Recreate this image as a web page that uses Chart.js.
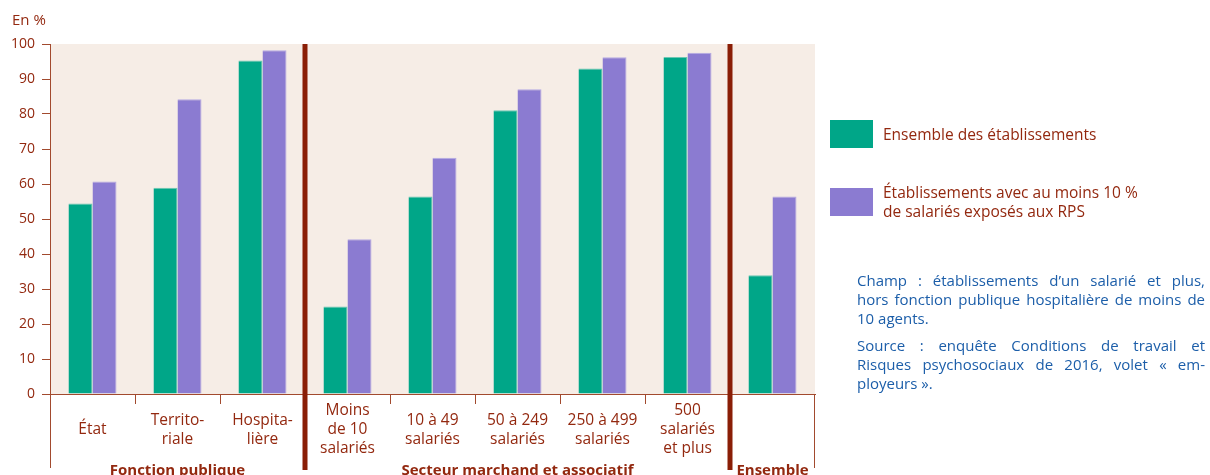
<!DOCTYPE html>
<html lang="fr">
<head>
<meta charset="utf-8">
<script src="https://cdn.jsdelivr.net/npm/chart.js@4.4.1/dist/chart.umd.min.js"></script>
<style>
  html, body { margin:0; padding:0; background:#fff; }
  #wrap { position:relative; width:1210px; height:475px; overflow:hidden; font-family:"Open Sans", sans-serif; }
  #graphe { position:absolute; left:0; top:0; }
  #unite { position:absolute; left:12px; top:9px; font-size:15px; color:#93280f; }
  #legende { position:absolute; left:830px; top:120px; color:#93280f; font-size:15.5px; line-height:19px; }
  #legende .item { display:flex; align-items:center; margin-bottom:35px; }
  #legende .case { width:43px; height:28px; margin-right:10px; flex:none; }
  #notes { position:absolute; left:857px; top:271px; width:348px; color:#1c5ea9; font-size:15px; line-height:19px; }
  #notes p { margin:0 0 8px 0; }
  #notes .j { display:block; text-align:justify; text-align-last:justify; white-space:nowrap; }
</style>
</head>
<body>
<div id="wrap">
  <canvas id="graphe" width="1210" height="475"></canvas>
  <div id="unite">En %</div>
  <div id="legende"></div>
  <div id="notes">
    <p><span class="j">Champ : établissements d’un salarié et plus,</span><span class="j">hors fonction publique hospitalière de moins de</span>10 agents.</p>
    <p><span class="j">Source : enquête Conditions de travail et</span><span class="j">Risques psychosociaux de 2016, volet « em-</span>ployeurs ».</p>
  </div>
</div>
<script>
var categories = [['État'], ['Territo-', 'riale'], ['Hospita-', 'lière'], ['Moins', 'de 10', 'salariés'],
  ['10 à 49', 'salariés'], ['50 à 249', 'salariés'], ['250 à 499', 'salariés'], ['500', 'salariés', 'et plus'], ''];
var groupes = ['Fonction publique', 'Secteur marchand et associatif', 'Ensemble'];
var tailleGroupes = [3, 5, 1];
var ensembleEtab = [54.4, 58.9, 95.3, 25.0, 56.4, 81.1, 93.0, 96.3, 33.9];
var etabRps = [60.7, 84.2, 98.2, 44.2, 67.5, 87.1, 96.2, 97.5, 56.4];
var yTicks = [0, 10, 20, 30, 40, 50, 60, 70, 80, 90, 100];

var rouge = '#93280f';
var trait = '#a24a2e';
var separateur = '#8a1e06';

// fond beige, separateurs et libelles des groupes
var cadre = {
  id: 'cadre',
  beforeDraw: function(chart) {
    var ctx = chart.ctx, a = chart.chartArea;
    ctx.save();
    ctx.fillStyle = '#f6ede6';
    ctx.fillRect(a.left, a.top, a.right - a.left, a.bottom - a.top);
    ctx.restore();
  },
  afterDraw: function(chart) {
    var ctx = chart.ctx, a = chart.chartArea, x = chart.scales.x;
    ctx.save();
    ctx.strokeStyle = trait;
    ctx.lineWidth = 1;
    ctx.beginPath();
    ctx.moveTo(a.left + 0.5, a.bottom); ctx.lineTo(a.left + 0.5, 468);
    ctx.moveTo(a.right - 0.5, a.bottom); ctx.lineTo(a.right - 0.5, 468);
    ctx.stroke();

    var debut = 0;
    for (var g = 0; g < groupes.length; g++) {
      var fin = debut + tailleGroupes[g] - 1;
      // petits traits entre categories du meme groupe
      ctx.strokeStyle = trait;
      ctx.lineWidth = 1;
      for (var i = debut; i < fin; i++) {
        var m = Math.round((x.getPixelForValue(i) + x.getPixelForValue(i + 1)) / 2) + 0.5;
        ctx.beginPath();
        ctx.moveTo(m, a.bottom); ctx.lineTo(m, a.bottom + 10);
        ctx.stroke();
      }
      // libelle du groupe
      var centre = (x.getPixelForValue(debut) + x.getPixelForValue(fin)) / 2;
      ctx.fillStyle = rouge;
      ctx.font = 'bold 15px "Open Sans", sans-serif';
      ctx.textAlign = 'center';
      ctx.textBaseline = 'middle';
      ctx.fillText(groupes[g], centre, 471);
      // separateur epais
      if (g < groupes.length - 1) {
        var s = (x.getPixelForValue(fin) + x.getPixelForValue(fin + 1)) / 2;
        ctx.strokeStyle = separateur;
        ctx.lineWidth = 5;
        ctx.beginPath();
        ctx.moveTo(s, a.top); ctx.lineTo(s, 470);
        ctx.stroke();
      }
      debut = fin + 1;
    }
    ctx.restore();
  }
};

var chart = new Chart(document.getElementById('graphe'), {
  type: 'bar',
  data: {
    labels: categories,
    datasets: [
      { label: 'Ensemble des établissements', data: ensembleEtab, backgroundColor: '#00a688',
        borderColor: '#6cc7b3', borderWidth: { top: 1, right: 1, left: 0, bottom: 0 } },
      { label: ['Établissements avec au moins 10 %', 'de salariés exposés aux RPS'], data: etabRps, backgroundColor: '#8b7bd1',
        borderColor: '#b5abe3', borderWidth: { top: 1, right: 1, left: 0, bottom: 0 } }
    ]
  },
  options: {
    responsive: false,
    animation: false,
    layout: { padding: { top: 44, right: 395, left: 0, bottom: 0 } },
    categoryPercentage: 0.565,
    barPercentage: 1,
    plugins: { legend: { display: false }, tooltip: { enabled: false } },
    scales: {
      x: {
        grid: { display: false, drawTicks: false },
        border: { display: true, color: trait, width: 1 },
        ticks: { color: rouge, font: { family: '"Open Sans", sans-serif', size: 15.5, lineHeight: 1.22 },
          padding: 17, crossAlign: 'center', maxRotation: 0, autoSkip: false },
        afterFit: function(s) { s.height = 81; }
      },
      y: {
        min: 0, max: 100,
        afterBuildTicks: function(s) { s.ticks = yTicks.map(function(v) { return { value: v }; }); },
        grid: { drawOnChartArea: false, drawTicks: true, tickLength: 8, color: trait },
        border: { display: true, color: trait, width: 1 },
        ticks: { color: rouge, font: { family: '"Open Sans", sans-serif', size: 14 }, padding: 7 },
        afterFit: function(s) { s.width = 50; }
      }
    }
  },
  plugins: [cadre]
});

// legende construite depuis les series
var leg = document.getElementById('legende');
chart.data.datasets.forEach(function(ds) {
  var item = document.createElement('div');
  item.className = 'item';
  var c = document.createElement('div');
  c.className = 'case';
  c.style.background = ds.backgroundColor;
  var t = document.createElement('div');
  t.innerHTML = [].concat(ds.label).join('<br>');
  item.appendChild(c);
  item.appendChild(t);
  leg.appendChild(item);
});
</script>
</body>
</html>
